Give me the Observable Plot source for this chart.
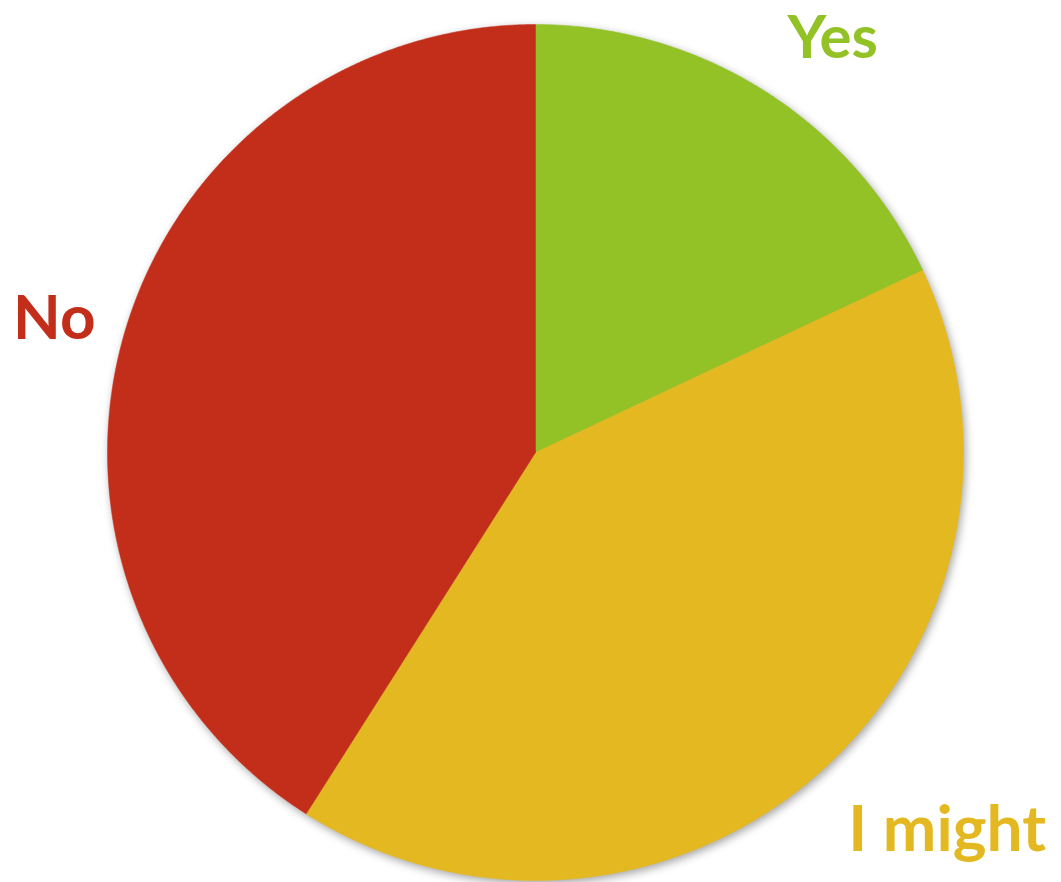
<!DOCTYPE html>
<html>
<head>
<meta charset="utf-8">
<script src="https://cdn.jsdelivr.net/npm/d3@7"></script>
<script src="https://cdn.jsdelivr.net/npm/@observablehq/plot@0.6"></script>
<style>
  html, body { margin: 0; padding: 0; background: #fff; }
  #chart svg { display: block; }
</style>
</head>
<body>
<div id="chart"></div>
<script>
const labels = ["Yes", "I might", "No"];
const values = [18, 41, 41];
const colors = ["#93C227", "#E4B820", "#C32E1A"];

const pie = d3.pie().sort(null).value(d => d.value);
const arcs = pie(labels.map((label, i) => ({label, value: values[i]})));

// Build slice polygons from the pie angles (angle measured clockwise from top)
const pts = [];
for (const a of arcs) {
  const lab = a.data.label;
  pts.push({label: lab, x: 0, y: 0});
  const n = Math.max(2, Math.ceil((a.endAngle - a.startAngle) / 0.005));
  for (let k = 0; k <= n; k++) {
    const t = a.startAngle + (a.endAngle - a.startAngle) * k / n;
    pts.push({label: lab, x: Math.sin(t), y: Math.cos(t)});
  }
  pts.push({label: lab, x: 0, y: 0});
}
const labelPts = arcs.map(a => {
  const m = (a.startAngle + a.endAngle) / 2;
  return {label: a.data.label, x: 1.2 * Math.sin(m), y: 1.2 * Math.cos(m)};
});

const textOpts = {x: "x", y: "y", text: "label", fill: "label", fontSize: 62, fontWeight: "bold", lineAnchor: "middle", fontFamily: "Lato, 'Open Sans', sans-serif"};

const chart = Plot.plot({
  width: 1061,
  height: 882,
  marginLeft: 107,
  marginRight: 98,
  marginTop: 24,
  marginBottom: 2,
  x: {domain: [-1, 1], axis: null},
  y: {domain: [-1, 1], axis: null},
  color: {domain: labels, range: colors},
  marks: [
    Plot.line(pts, {x: "x", y: "y", z: "label", fill: "label", stroke: "label", strokeWidth: 0.5, curve: "linear",
      render: (index, scales, values, dims, ctx, next) => {
        const g = next(index, scales, values, dims, ctx);
        g.setAttribute("style", "filter: drop-shadow(2px 3px 4px rgba(0,0,0,0.35))");
        return g;
      }}),
    Plot.text(labelPts.filter(d => d.label === "Yes"), {...textOpts, fontSize: 60, dx: 22, dy: 20}),
    Plot.text(labelPts.filter(d => d.label === "No"), {...textOpts, dx: 12, dy: 10}),
    Plot.text(labelPts.filter(d => d.label === "I might"), {...textOpts, fontSize: 64, dx: 72, dy: -7})
  ]
});
document.getElementById("chart").appendChild(chart);
</script>
</body>
</html>
